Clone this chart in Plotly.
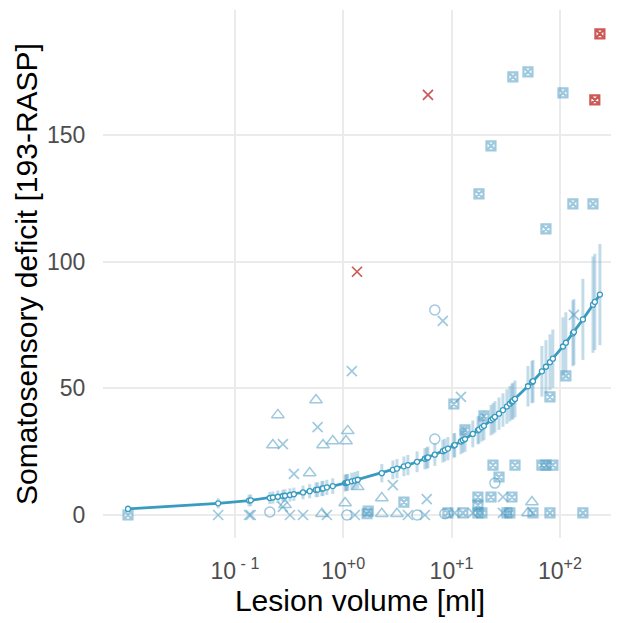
import plotly.graph_objects as go

# ---- observed data (lesion volume in ml, somatosensory deficit) ----
sq_x = [0.0103, 36.8, 50.7, 106.7, 23.1, 17.9, 131.8, 202, 74.3, 113.5, 80.9, 10.5, 19.9, 13.3,
        24.1, 38.5, 68.2, 74.3, 86.1, 27.4, 17.5, 23.1, 36.1, 17.5, 3.63,
        9.25, 12.7, 17.5, 19.05, 32.4, 34.5, 56.4, 80.9, 163, 1.66, 1.7]
sq_y = [0, 172.9, 174.9, 166.6, 145.7, 126.7, 122.8, 122.8, 112.9, 54.9, 46.6, 43.8, 39.1, 33.6,
        19.7, 19.7, 19.7, 19.7, 19.7, 15, 7.1, 7.1, 7.1, 3.9, 5.1,
        0.8, 0.8, 0.8, 0.8, 0.8, 0.8, 0.8, 0.8, 0.8, 0.5, 1.5]

red_sq_x = [234, 210]
red_sq_y = [189.9, 163.8]
red_x_x = [1.34, 6.05]
red_x_y = [96, 165.8]

circ_x = [7.0, 7.0, 25.1, 0.21, 1.08, 4.8, 8.67]
circ_y = [80.9, 30, 12.6, 1.2, 0, 0, 0.5]

tri_x = [0.249, 0.224, 0.56, 1.1, 0.65, 0.8, 1.06, 0.49, 1.36, 2.27, 1.04, 0.29, 0.635, 2.27, 3.13, 55.2, 50.7]
tri_y = [39.5, 27.6, 45.4, 33.2, 27.6, 29.2, 29.2, 16.6, 11.1, 6.7, 4.7, 4, 0.5, 0.5, 0.5, 5.1, 0.8]

xm_x = [0.277, 0.35, 0.07, 0.135, 0.14, 0.277, 0.322, 0.58, 1.2, 8.3, 2.87, 5.9, 0.425, 0.706, 1.28,
        3.95, 5.67, 134.6, 12.2, 29.8, 10.7, 15.7, 29.8]
xm_y = [28, 16.2, 0, 0, 0, 3.2, 0, 34.7, 56.8, 76.6, 11.8, 6.3, 0, 0, 0,
        0, 0, 79, 46.6, 7.1, 0.8, 0.8, 0.8]

# ---- fitted curve with uncertainty ----
fit_x = [0.0103, 0.07, 0.135, 0.14, 0.21, 0.224, 0.249, 0.277, 0.29, 0.322, 0.35, 0.425, 0.49, 0.56,
         0.58, 0.635, 0.65, 0.706, 0.8, 1.04, 1.06, 1.08, 1.1, 1.2, 1.28, 1.36, 2.27, 2.87, 3.13,
         3.63, 3.95, 4.8, 5.67, 5.9, 6.05, 7.0, 8.3, 8.67, 9.25, 10.5, 10.7, 12.2, 12.7, 13.3,
         15.7, 17.5, 17.9, 19.05, 19.9, 23.1, 24.1, 25.1, 27.4, 29.8, 32.4, 34.5, 36.1, 36.8,
         38.5, 50.7, 55.2, 56.4, 68.2, 74.3, 80.9, 86.1, 106.7, 113.5, 131.8, 134.6, 163, 202,
         210, 234]
fit_y = [2.4, 4.6, 5.7, 5.8, 6.7, 6.9, 7.2, 7.5, 7.6, 7.9, 8.2, 8.9, 9.4, 9.9,
         10.0, 10.4, 10.5, 10.9, 11.4, 12.6, 12.7, 12.8, 12.9, 13.3, 13.6, 13.9, 16.5, 17.8, 18.3,
         19.2, 19.7, 21.0, 22.2, 22.5, 22.7, 23.8, 25.2, 25.6, 26.2, 27.4, 27.6, 29.0, 29.5, 30.0,
         32.0, 33.4, 33.7, 34.6, 35.2, 37.4, 38.0, 38.7, 40.0, 41.4, 42.8, 43.9, 44.7, 45.0,
         45.8, 50.8, 52.4, 52.8, 56.7, 58.5, 60.3, 61.7, 66.5, 68.0, 71.7, 72.2, 77.2, 83.0,
         84.1, 87.0]
fit_err = [1.5, 2.0, 2.3, 2.3, 2.4, 2.4, 2.5, 2.5, 2.5, 2.6, 2.6, 2.7, 2.8, 2.9,
           2.9, 3.0, 3.0, 3.0, 3.1, 3.3, 3.3, 3.3, 3.3, 3.4, 3.4, 3.5, 3.6, 3.7, 3.8,
           3.9, 4.0, 4.1, 4.2, 4.2, 4.3, 4.4, 4.5, 4.5, 4.6, 4.8, 4.8, 5.0, 5.0, 5.1,
           5.3, 5.5, 5.5, 5.6, 5.7, 6.0, 6.1, 6.2, 6.4, 6.6, 6.8, 7.0, 7.1, 7.2,
           7.3, 8.0, 8.3, 8.4, 10.0, 10.5, 11.0, 11.5, 11.5, 12.0, 13.0, 13.0, 16.0, 19.0,
           19.0, 20.0]

x_tickvals = [0.1, 1, 10, 100]
x_ticktext = ["10<sup> - 1</sup>", "10<sup>+0</sup>", "10<sup>+1</sup>", "10<sup>+2</sup>"]
y_tickvals = [0, 50, 100, 150]

BLUE_PT = "rgba(70,152,192,0.52)"
RED_PT = "rgba(196,60,56,0.85)"
LINE = "#3a9bc0"
ERR = "rgba(110,170,202,0.42)"

fig = go.Figure()

# uncertainty bars
fig.add_trace(go.Scatter(
    x=fit_x, y=fit_y, mode="markers", marker=dict(size=1, opacity=0),
    error_y=dict(type="data", array=fit_err, visible=True, thickness=3, width=0, color=ERR),
    hoverinfo="skip", showlegend=False))

def pts(x, y, symbol, color, size=10, lw=1.4):
    fig.add_trace(go.Scatter(
        x=x, y=y, mode="markers", showlegend=False,
        marker=dict(symbol=symbol, size=size, color=color,
                    line=dict(color=color, width=lw))))

pts(circ_x, circ_y, "circle-open", BLUE_PT, 10, 1.5)
pts(tri_x, tri_y, "triangle-up-open", BLUE_PT, 11, 1.5)
pts(xm_x, xm_y, "x-thin-open", BLUE_PT, 10, 1.7)
pts(sq_x, sq_y, "square-x-open", BLUE_PT, 9, 2.2)
pts(red_sq_x, red_sq_y, "square-x-open", RED_PT, 9, 2.2)
pts(red_x_x, red_x_y, "x-thin-open", RED_PT, 10, 1.7)

# fitted curve
fig.add_trace(go.Scatter(
    x=fit_x, y=fit_y, mode="lines+markers", showlegend=False,
    line=dict(color=LINE, width=2.8),
    marker=dict(symbol="circle", size=5, color="white", line=dict(color=LINE, width=1.3))))

# the page body adds an 8px offset; size the figure so it fits the 619x623 window
fig.update_layout(
    width=611, height=615,
    margin=dict(l=95, r=2, t=2, b=85),
    paper_bgcolor="white", plot_bgcolor="white",
    font=dict(family="Liberation Sans, Arial, sans-serif"),
    xaxis=dict(
        type="log", range=[-2.218, 2.527], automargin=False,
        tickvals=x_tickvals, ticktext=x_ticktext,
        showgrid=True, gridcolor="#ebebeb", gridwidth=2.2,
        zeroline=False, showline=False,
        ticks="outside", ticklen=12, tickcolor="rgba(0,0,0,0)",
        tickfont=dict(size=23, color="#4d4d4d"),
        title=dict(text="Lesion volume [ml]", font=dict(size=30, color="black"), standoff=2),
    ),
    yaxis=dict(
        range=[-9.08, 199.3], automargin=False,
        tickvals=y_tickvals,
        showgrid=True, gridcolor="#ebebeb", gridwidth=2.2,
        zeroline=False, showline=False,
        ticks="outside", ticklen=12, tickcolor="rgba(0,0,0,0)",
        tickfont=dict(size=23, color="#4d4d4d"),
        title=dict(text="Somatosensory deficit [193-RASP]", font=dict(size=30, color="black"), standoff=0),
    ),
)

fig.write_html("out.html")
